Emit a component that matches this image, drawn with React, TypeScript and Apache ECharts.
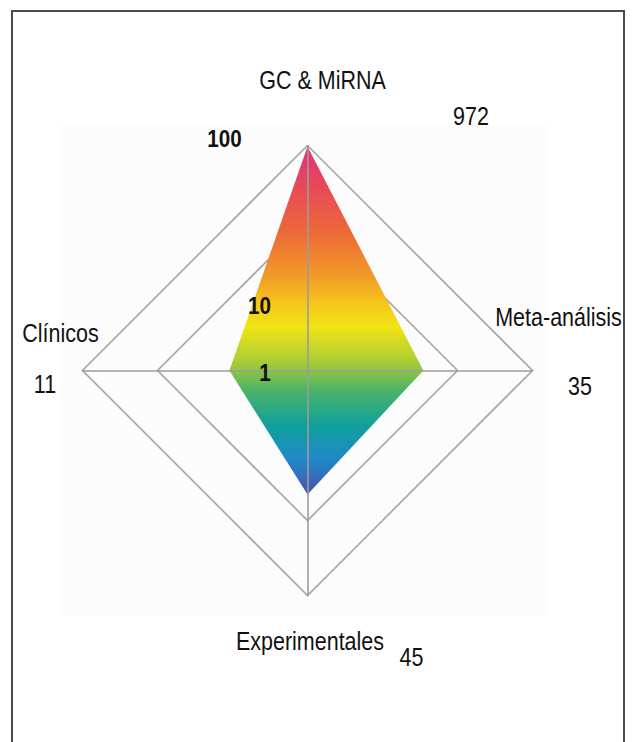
import React, { useEffect, useRef } from "react";
import * as echarts from "echarts";

// ---- data ----
const indicators = ["GC & MiRNA", "Clínicos", "Experimentales", "Meta-análisis"];
const counts = [972, 11, 45, 35];
const scaleLabels = ["1", "10", "100"];
const logMax = 3; // 10^3

const FONT = "'Liberation Sans', Arial, Helvetica, sans-serif";

function label(text: string, cx: number, cy: number, bold = false, size = 25) {
  return {
    type: "text",
    x: cx,
    y: cy,
    scaleX: 0.86,
    z: 10,
    style: {
      x: 0,
      y: 0,
      text,
      align: "center",
      verticalAlign: "middle",
      fontFamily: FONT,
      fontSize: size,
      fontWeight: bold ? "bold" : "normal",
      fill: "#111",
    },
  };
}

export default function App() {
  const ref = useRef<HTMLDivElement>(null);
  useEffect(() => {
    if (!ref.current) return;
    const chart = echarts.init(ref.current, null, { renderer: "svg" });
    const logValues = counts.map((v) => Math.log10(v));
    const gradient = new echarts.graphic.LinearGradient(0, 0, 0, 1, [
      { offset: 0, color: "#e2307c" },
      { offset: 0.12, color: "#e84a58" },
      { offset: 0.25, color: "#ec6a36" },
      { offset: 0.37, color: "#f29a28" },
      { offset: 0.47, color: "#f5d018" },
      { offset: 0.52, color: "#f0e416" },
      { offset: 0.62, color: "#a8cc36" },
      { offset: 0.7, color: "#4cb468" },
      { offset: 0.8, color: "#10a09a" },
      { offset: 0.9, color: "#2088c8" },
      { offset: 1, color: "#4a52a8" },
    ]);
    const base = {
      center: [307.5, 370.5],
      radius: 225,
      startAngle: 90,
      shape: "polygon",
      splitNumber: 3,
      indicator: indicators.map((name) => ({ name, min: 0, max: logMax })),
      axisName: { show: false },
      splitArea: { show: false },
    };
    chart.setOption({
      animation: false,
      backgroundColor: "#ffffff",
      radar: [
        {
          ...base,
          z: 1,
          axisLine: { show: false },
          splitLine: {
            lineStyle: {
              color: ["#a6a6a6", "rgba(0,0,0,0)", "#a6a6a6", "#a6a6a6"],
              width: 1.6,
            },
          },
        },
        {
          ...base,
          z: 3,
          axisLine: { lineStyle: { color: "#9c9c9c", width: 1.6 } },
          splitLine: { show: false },
        },
      ],
      series: [
        {
          type: "radar",
          radarIndex: 0,
          z: 2,
          symbol: "none",
          lineStyle: { width: 0, opacity: 0 },
          areaStyle: { color: gradient, opacity: 1 },
          data: [{ value: logValues, name: "Estudios" }],
        },
      ],
      graphic: [
        {
          type: "rect",
          z: -10,
          shape: { x: 60, y: 125, width: 488, height: 491 },
          style: { fill: "#fcfcfc", stroke: "none" },
          silent: true,
        },
        {
          type: "rect",
          z: 20,
          shape: { x: 12, y: 11, width: 612, height: 800 },
          style: { fill: "none", stroke: "#4a4a4a", lineWidth: 2 },
          silent: true,
        },
        label(indicators[0], 322.5, 80.5),
        label(String(counts[0]), 471, 116),
        label(indicators[1], 60.5, 333),
        label(String(counts[1]), 45, 384),
        label(indicators[2], 310, 641),
        label(String(counts[2]), 411.5, 657),
        label(indicators[3], 558.5, 317.5),
        label(String(counts[3]), 580, 386),
        label(scaleLabels[2], 224.5, 138.5, true, 24),
        label(scaleLabels[1], 259.5, 305.5, true, 24),
        label(scaleLabels[0], 265, 373, true, 24),
      ],
    });
    return () => chart.dispose();
  }, []);
  return (
    <div
      ref={ref}
      style={{ position: "fixed", left: 0, top: 0, width: 633, height: 742 }}
    />
  );
}
